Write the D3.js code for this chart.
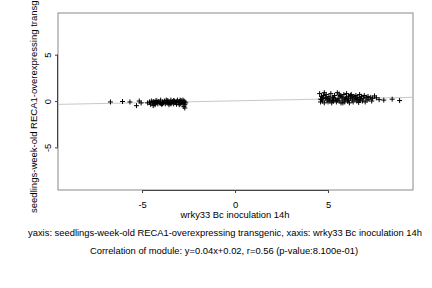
<!DOCTYPE html>
<html>
<head>
<meta charset="utf-8">
<script src="https://cdn.jsdelivr.net/npm/d3@7"></script>
<style>
  body { margin: 0; background: #fff; }
  svg text { font-family: "Liberation Sans", Arial, sans-serif; font-size: 9.4px; fill: #000; }
</style>
</head>
<body>
<svg id="scatter" width="432" height="288"></svg>
<script>
// points: [x, y]
const groupLeft = [
  [-6.7,-0.1],[-6.05,-0.05],[-5.65,-0.1],[-5.3,-0.5],[-5.15,0.0],[-5.05,-0.2],
  [-4.7,-0.2],[-4.6,-0.1],[-4.55,-0.35],[-4.5,0.0],[-4.45,-0.2],[-4.4,-0.5],[-4.35,-0.1],
  [-4.3,-0.25],[-4.25,0.05],[-4.2,-0.15],[-4.15,-0.3],[-4.1,-0.05],[-4.05,-0.2],[-4.0,0.1],
  [-3.95,-0.35],[-3.9,-0.1],[-3.85,-0.2],[-3.8,0.0],[-3.75,-0.3],[-3.7,-0.15],[-3.65,0.05],
  [-3.6,-0.25],[-3.55,-0.4],[-3.5,-0.1],[-3.45,0.1],[-3.4,-0.2],[-3.35,-0.05],[-3.3,-0.3],
  [-3.25,0.0],[-3.2,-0.15],[-3.15,-0.35],[-3.1,0.1],[-3.05,-0.2],[-3.0,-0.05],[-2.95,-0.3],
  [-2.9,0.05],[-2.85,-0.15],[-2.8,-0.25],[-2.75,0.0],[-2.7,-0.4],[-2.75,-0.6],[-2.7,-0.1],
  [-2.65,-0.2],[-3.6,0.0],[-3.9,-0.3],[-4.2,0.0],[-3.3,0.05],[-3.0,-0.4],[-4.4,-0.05],
  [-2.9,-0.2],[-3.45,-0.3],[-4.0,-0.25],[-3.15,-0.1],[-3.7,0.1],[-4.3,-0.4],[-2.8,0.1],
  [-3.5,-0.2],[-2.95,0.1],[-2.7,-0.75]
];
const groupRight = [
  [4.55,0.8],[4.6,0.2],[4.6,-0.1],[4.65,0.5],[4.7,0.0],[4.75,0.6],[4.8,-0.2],[4.85,0.3],
  [4.9,0.7],[4.95,0.1],[5.0,-0.1],[5.05,0.5],[5.1,0.2],[5.15,0.8],[5.2,-0.2],[5.25,0.4],
  [5.3,0.0],[5.35,0.6],[5.4,0.2],[5.45,-0.1],[5.5,0.9],[5.55,0.3],[5.6,0.0],[5.65,0.6],
  [5.7,-0.2],[5.75,0.4],[5.8,0.1],[5.85,0.7],[5.9,-0.1],[5.95,0.3],[6.0,0.8],[6.05,0.0],
  [6.1,0.5],[6.15,-0.2],[6.2,0.3],[6.25,0.7],[6.3,0.1],[6.35,-0.1],[6.4,0.5],[6.45,0.2],
  [6.5,0.6],[6.55,0.0],[6.6,0.4],[6.65,-0.15],[6.7,0.7],[6.75,0.2],[6.8,0.5],[6.85,0.0],
  [6.9,0.3],[6.95,0.6],[7.0,-0.1],[7.05,0.4],[7.1,0.1],[7.15,0.5],[7.2,0.2],[7.3,0.4],
  [7.35,0.0],[7.4,0.3],[4.7,0.3],[4.9,0.4],[5.1,0.0],[5.3,0.3],[5.5,0.1],[5.7,0.5],
  [5.9,0.2],[6.1,0.1],[6.3,0.4],[6.5,0.3],[6.7,0.1],[4.8,0.9],[5.6,0.75],[6.2,0.6],
  [5.0,0.25],[5.8,-0.2],[6.6,0.2],[4.65,0.15],[5.25,0.05],[6.0,0.35],
  [7.5,0.55],[7.6,0.35],[7.75,0.15],[8.0,0.1],[8.45,0.2],[8.85,0.05]
];
const xTicks = [-5, 0, 5];
const yTicks = [-5, 0, 5];
const fit = {slope: 0.04, intercept: 0.02};
const yLabel = "seedlings-week-old RECA1-overexpressing transgenic";
const xLabel = "wrky33 Bc inoculation 14h";
const caption1 = "yaxis: seedlings-week-old RECA1-overexpressing transgenic, xaxis: wrky33 Bc inoculation 14h";
const caption2 = "Correlation of module: y=0.04x+0.02, r=0.56 (p-value:8.100e-01)";

const svg = d3.select("#scatter");
const box = {left: 58, right: 413, top: 13, bottom: 190};

const xScale = d3.scaleLinear().domain([-9.52, 9.57]).range([box.left, box.right]);
const yScale = d3.scaleLinear().domain([-9.6, 9.5]).range([box.bottom, box.top]);

// box
svg.append("rect")
  .attr("x", box.left).attr("y", box.top)
  .attr("width", box.right - box.left).attr("height", box.bottom - box.top)
  .attr("fill", "none").attr("stroke", "#8a8a8a").attr("stroke-width", 1);

// fitted line
const xd = xScale.domain();
svg.append("line")
  .attr("x1", xScale(xd[0])).attr("x2", xScale(xd[1]))
  .attr("y1", yScale(fit.slope * xd[0] + fit.intercept))
  .attr("y2", yScale(fit.slope * xd[1] + fit.intercept))
  .attr("stroke", "#c8c8c8").attr("stroke-width", 1);

// x axis
const xAxis = d3.axisBottom(xScale).tickValues(xTicks).tickSize(3).tickPadding(8);
const xAxisG = svg.append("g")
  .attr("transform", `translate(0,${box.bottom})`)
  .call(xAxis);
xAxisG.select(".domain")
  .attr("d", `M${xScale(-5)},0.5H${xScale(5)}`)
  .attr("stroke", "#444");
xAxisG.selectAll("line").attr("stroke", "#444");
xAxisG.selectAll("text").attr("font-size", null).attr("font-family", null).attr("fill", null)
  .text(d => d < 0 ? "-" + Math.abs(d) : d);

// y axis, R style rotated labels
const yAxis = d3.axisLeft(yScale).tickValues(yTicks).tickSize(3);
const yAxisG = svg.append("g")
  .attr("transform", `translate(${box.left},0)`)
  .call(yAxis);
yAxisG.select(".domain")
  .attr("d", `M-0.5,${yScale(-5)}V${yScale(5)}`)
  .attr("stroke", "#444");
yAxisG.selectAll("line").attr("stroke", "#444");
yAxisG.selectAll("text").remove();
yAxisG.selectAll(".tick").append("text")
  .attr("transform", "translate(-7,0) rotate(-90)")
  .attr("text-anchor", "middle")
  .text(d => d < 0 ? "-" + Math.abs(d) : d);

// points as plus marks
const allPts = groupLeft.concat(groupRight);
svg.append("g").selectAll("path").data(allPts)
  .enter().append("path")
  .attr("d", d => {
    const px = xScale(d[0]), py = yScale(d[1]);
    return `M${px - 2.5},${py}H${px + 2.5}M${px},${py - 2.5}V${py + 2.5}`;
  })
  .attr("stroke", "#000").attr("stroke-width", 1).attr("fill", "none");

// labels
svg.append("text")
  .attr("transform", "translate(37,98) rotate(-90)")
  .attr("text-anchor", "middle")
  .attr("textLength", 230)
  .attr("lengthAdjust", "spacingAndGlyphs")
  .text(yLabel);
svg.append("text")
  .attr("x", xScale(0)).attr("y", 218)
  .attr("text-anchor", "middle")
  .text(xLabel);
svg.append("text")
  .attr("x", 225).attr("y", 236)
  .attr("text-anchor", "middle")
  .text(caption1);
svg.append("text")
  .attr("x", 224).attr("y", 254)
  .attr("text-anchor", "middle")
  .text(caption2);
</script>
</body>
</html>
